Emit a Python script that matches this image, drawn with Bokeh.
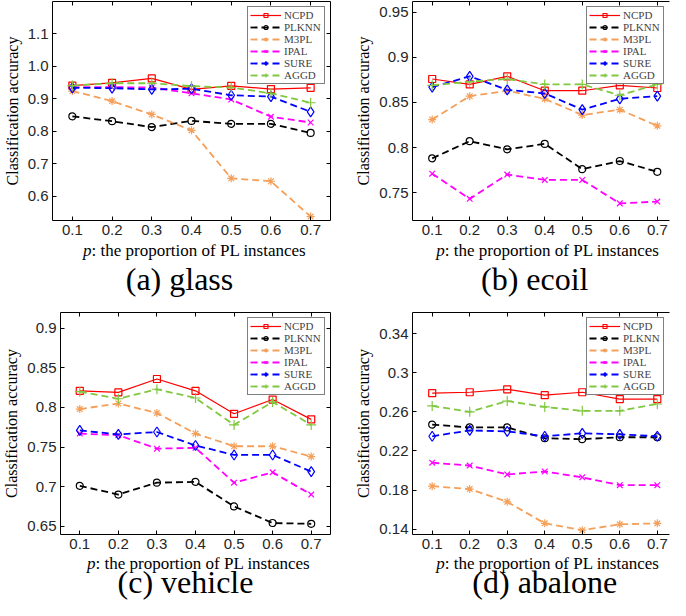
from bokeh.plotting import figure
from bokeh.layouts import column, row
from bokeh.models import (LinearAxis, FixedTicker, CustomJSTickFormatter, Label,
                          Legend, LegendItem, Range1d)
from bokeh.embed import file_html
from bokeh.resources import INLINE

# ---------------- data ----------------
x_vals = [0.1, 0.2, 0.3, 0.4, 0.5, 0.6, 0.7]
x_ticks = [0.1, 0.2, 0.3, 0.4, 0.5, 0.6, 0.7]
methods = ["NCPD", "PLKNN", "M3PL", "IPAL", "SURE", "AGGD"]

# (a) glass
glass_ncpd = [0.941, 0.949, 0.963, 0.929, 0.940, 0.930, 0.934]
glass_plknn = [0.846, 0.831, 0.813, 0.832, 0.823, 0.823, 0.795]
glass_m3pl = [0.924, 0.893, 0.852, 0.803, 0.655, 0.646, 0.537]
glass_ipal = [0.936, 0.936, 0.935, 0.917, 0.898, 0.845, 0.827]
glass_sure = [0.934, 0.933, 0.929, 0.931, 0.911, 0.907, 0.860]
glass_aggd = [0.941, 0.948, 0.948, 0.939, 0.935, 0.917, 0.888]
glass_yticks = [0.6, 0.7, 0.8, 0.9, 1.0, 1.1]

# (b) ecoil
ecoil_ncpd = [0.876, 0.870, 0.879, 0.863, 0.863, 0.869, 0.866]
ecoil_plknn = [0.788, 0.807, 0.798, 0.804, 0.776, 0.785, 0.773]
ecoil_m3pl = [0.831, 0.857, 0.863, 0.854, 0.836, 0.842, 0.824]
ecoil_ipal = [0.771, 0.743, 0.770, 0.764, 0.764, 0.738, 0.740]
ecoil_sure = [0.867, 0.879, 0.864, 0.860, 0.842, 0.854, 0.857]
ecoil_aggd = [0.869, 0.873, 0.876, 0.870, 0.870, 0.858, 0.870]
ecoil_yticks = [0.75, 0.8, 0.85, 0.9, 0.95]

# (c) vehicle
vehicle_ncpd = [0.821, 0.819, 0.836, 0.821, 0.792, 0.810, 0.785]
vehicle_plknn = [0.701, 0.690, 0.705, 0.706, 0.675, 0.654, 0.653]
vehicle_m3pl = [0.798, 0.805, 0.793, 0.767, 0.751, 0.751, 0.738]
vehicle_ipal = [0.767, 0.765, 0.748, 0.749, 0.705, 0.718, 0.690]
vehicle_sure = [0.771, 0.766, 0.769, 0.752, 0.740, 0.740, 0.719]
vehicle_aggd = [0.820, 0.811, 0.823, 0.812, 0.778, 0.807, 0.778]
vehicle_yticks = [0.65, 0.7, 0.75, 0.8, 0.85, 0.9]

# (d) abalone
abalone_ncpd = [0.279, 0.280, 0.283, 0.277, 0.280, 0.273, 0.273]
abalone_plknn = [0.247, 0.244, 0.244, 0.233, 0.232, 0.234, 0.234]
abalone_m3pl = [0.184, 0.181, 0.168, 0.146, 0.139, 0.145, 0.146]
abalone_ipal = [0.208, 0.205, 0.196, 0.199, 0.193, 0.185, 0.185]
abalone_sure = [0.235, 0.241, 0.240, 0.235, 0.238, 0.237, 0.235]
abalone_aggd = [0.266, 0.260, 0.271, 0.265, 0.261, 0.261, 0.268]
abalone_yticks = [0.14, 0.18, 0.22, 0.26, 0.3, 0.34]

# ---------------- styles ----------------
STYLE = {
    "NCPD":  dict(color="#ff0000", marker="square",   size=7, dash="solid", lw=1.2),
    "PLKNN": dict(color="#000000", marker="circle",   size=7, dash="7 4",   lw=1.8),
    "M3PL":  dict(color="#f5a05a", marker="asterisk", size=8, dash="7 4",   lw=1.8),
    "IPAL":  dict(color="#ff00ff", marker="x",        size=8, dash="7 4",   lw=1.8),
    "SURE":  dict(color="#0000ff", marker="diamond",  size=10, dash="7 4",  lw=1.8),
    "AGGD":  dict(color="#80c840", marker="cross",    size=10, dash="7 4",  lw=1.8),
}
SERIF = "Liberation Serif"
SANS = "Liberation Sans"


def style_axis(ax, labels):
    ax.axis_line_color = "black"
    ax.axis_line_width = 1
    ax.major_tick_line_color = "black"
    ax.major_tick_in = 4
    ax.major_tick_out = 0
    ax.minor_tick_line_color = None
    ax.major_label_text_font = SANS
    ax.major_label_text_font_size = "15px"
    ax.major_label_text_color = "#262626"
    ax.major_label_standoff = 4
    if not labels:
        ax.formatter = CustomJSTickFormatter(code="return '';")
        ax.major_label_standoff = 0


def make_panel(series, yticks, yrange, xrange, width, height,
               mbl, mbr, mbt, mbb, right_border, fmt_code):
    p = figure(width=width, height=height, output_backend="svg",
               toolbar_location=None,
               x_range=Range1d(*xrange), y_range=Range1d(*yrange),
               min_border_left=mbl, min_border_right=mbr,
               min_border_top=mbt, min_border_bottom=mbb)
    p.outline_line_color = None
    p.grid.visible = False
    p.background_fill_color = "white"
    p.border_fill_color = "white"

    xa = p.xaxis[0]
    xa.ticker = FixedTicker(ticks=x_ticks)
    style_axis(xa, True)
    ya = p.yaxis[0]
    ya.ticker = FixedTicker(ticks=yticks)
    style_axis(ya, True)
    ya.formatter = CustomJSTickFormatter(code=fmt_code)
    ya.axis_label = "Classification accuracy"
    ya.axis_label_text_font = SERIF
    ya.axis_label_text_font_style = "normal"
    ya.axis_label_text_font_size = "16px"
    ya.axis_label_text_color = "black"
    ya.axis_label_standoff = 4

    top = LinearAxis(ticker=FixedTicker(ticks=x_ticks))
    style_axis(top, False)
    p.add_layout(top, "above")
    if right_border:
        rgt = LinearAxis(ticker=FixedTicker(ticks=yticks))
        style_axis(rgt, False)
        p.add_layout(rgt, "right")

    items = []
    for name, ys in zip(methods, series):
        st = STYLE[name]
        r1 = p.line(x_vals, ys, line_color=st["color"], line_width=st["lw"],
                    line_dash=st["dash"])
        r2 = p.scatter(x_vals, ys, marker=st["marker"], size=st["size"],
                       line_color=st["color"], fill_color=None, line_width=1.2)
        items.append(LegendItem(label=name, renderers=[r1, r2]))
    leg = Legend(items=items, location="top_right")
    leg.label_text_font = SERIF
    leg.label_text_font_size = "11px"
    leg.label_height = 10
    leg.label_width = 38
    leg.glyph_height = 10
    leg.glyph_width = 31
    leg.spacing = 0
    leg.padding = 2
    leg.margin = 5
    leg.label_standoff = 3
    leg.border_line_color = "black"
    leg.border_line_width = 1
    leg.background_fill_alpha = 1.0
    p.add_layout(leg, "center")
    return p


def make_caption(main, title, width, height, mbl, mbr, y_xlabel, y_title, title_dx):
    c = figure(width=width, height=height, output_backend="svg",
               toolbar_location=None, x_axis_type=None, y_axis_type=None,
               x_range=main.x_range, y_range=Range1d(height, 0),
               min_border_left=mbl, min_border_right=mbr,
               min_border_top=0, min_border_bottom=0)
    c.outline_line_color = None
    c.grid.visible = False
    c.background_fill_color = "white"
    c.border_fill_color = "white"
    xc = 0.4
    c.add_layout(Label(x=xc, y=y_xlabel, x_offset=-100, text="p",
                       text_font=SERIF, text_font_style="italic",
                       text_font_size="17px", text_align="right",
                       text_baseline="middle", text_color="black"))
    c.add_layout(Label(x=xc, y=y_xlabel, x_offset=-100,
                       text=": the proportion of PL instances",
                       text_font=SERIF, text_font_size="17px", text_align="left",
                       text_baseline="middle", text_color="black"))
    c.add_layout(Label(x=xc, y=y_title, x_offset=title_dx,
                       text=title, text_font=SERIF, text_font_size="32px",
                       text_align="center", text_baseline="middle",
                       text_color="black"))
    return c


FMT1 = "return tick.toFixed(1);"
FMTT = "return String(parseFloat(tick.toFixed(4)));"

LW, RW = 352, 318          # column widths
TOP_MAIN, TOP_CAP = 240, 68
BOT_MAIN, BOT_CAP = 246, 46

pa = make_panel([glass_ncpd, glass_plknn, glass_m3pl, glass_ipal, glass_sure, glass_aggd],
                glass_yticks, (0.525, 1.2), (0.05, 0.75),
                LW, TOP_MAIN, 52, 22, 1, 20, True, FMT1)
pb = make_panel([ecoil_ncpd, ecoil_plknn, ecoil_m3pl, ecoil_ipal, ecoil_sure, ecoil_aggd],
                ecoil_yticks, (0.719, 0.962), (0.0475, 0.7325),
                RW, TOP_MAIN, 52, 1, 1, 20, False, FMTT)
pc = make_panel([vehicle_ncpd, vehicle_plknn, vehicle_m3pl, vehicle_ipal, vehicle_sure, vehicle_aggd],
                vehicle_yticks, (0.6395, 0.920), (0.05, 0.75),
                LW, BOT_MAIN, 52, 22, 4, 20, True, FMTT)
pd = make_panel([abalone_ncpd, abalone_plknn, abalone_m3pl, abalone_ipal, abalone_sure, abalone_aggd],
                abalone_yticks, (0.1346, 0.3615), (0.0475, 0.7325),
                RW, BOT_MAIN, 52, 1, 4, 20, False, FMTT)

ca = make_caption(pa, "(a) glass", LW, TOP_CAP, 52, 22, 10, 38, -12)
cb = make_caption(pb, "(b) ecoil", RW, TOP_CAP, 52, 1, 10, 38, -10)
cc = make_caption(pc, "(c) vehicle", LW, BOT_CAP, 52, 22, 9, 27, -10)
cd = make_caption(pd, "(d) abalone", RW, BOT_CAP, 52, 1, 9, 27, 0)

layout = column(row(column(pa, ca), column(pb, cb)),
                row(column(pc, cc), column(pd, cd)))
open("out.html", "w").write(file_html(layout, INLINE))
